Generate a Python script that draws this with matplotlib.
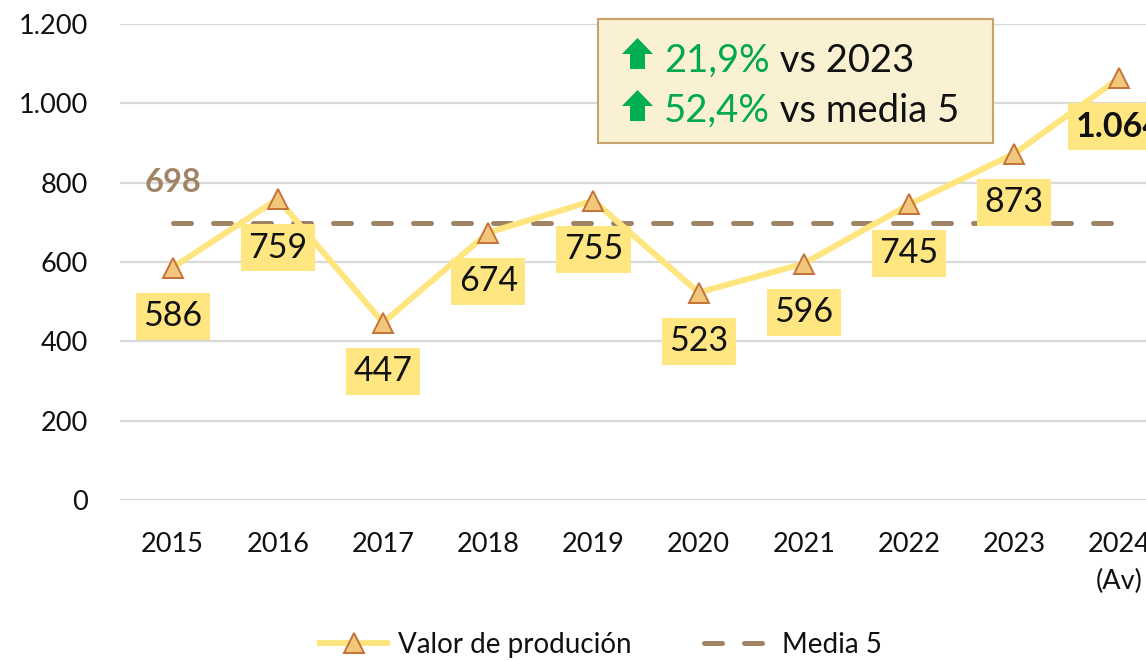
import matplotlib
matplotlib.use("Agg")
import matplotlib.pyplot as plt
from matplotlib.ticker import FuncFormatter
from matplotlib.lines import Line2D
from matplotlib.patches import Rectangle, Polygon

years = ["2015", "2016", "2017", "2018", "2019", "2020", "2021", "2022", "2023", "2024\n(Av)"]
values = [586, 759, 447, 674, 755, 523, 596, 745, 873, 1064]
media5 = 698
yticks = [0, 200, 400, 600, 800, 1000, 1200]
box_line1 = ("21,9%", "vs 2023")
box_line2 = ("52,4%", "vs media 5")
legend_labels = ["Valor de produción", "Media 5"]

plt.rcParams["font.family"] = ["Lato", "DejaVu Sans"]

W, H = 1146, 661
fig = plt.figure(figsize=(W / 100, H / 100), dpi=100)

def fx(px):
    return px / W

def fy(py):
    return (H - py) / H

ax = fig.add_axes([fx(120), fy(500), fx(1172) - fx(120), fy(24) - fy(500)])

x = list(range(len(values)))
line_col = "#FFE57F"
ax.plot(x, values, color=line_col, lw=4.3, zorder=3, solid_capstyle="round",
        marker="^", markersize=15, markerfacecolor="#F2C77C",
        markeredgecolor="#C4733A", markeredgewidth=1.4)
ax.plot([0, len(values) - 1], [media5, media5], color="#A08466", lw=3.6,
        dashes=(3.6, 4.4), dash_capstyle="round", zorder=2)

for i, v in enumerate(values):
    last = i == len(values) - 1
    lab = f"{v:,}".replace(",", ".")
    ax.annotate(lab, (i, v), xytext=(0, -35), textcoords="offset points",
                ha="center", va="center", fontsize=24.5,
                fontweight="bold" if last else "normal", color="#111111",
                bbox=dict(boxstyle="square,pad=0.22", fc="#FFE680", ec="none"),
                zorder=5, annotation_clip=False)

ax.annotate(f"{media5}", (0, media5), xytext=(0, 29), textcoords="offset points",
            ha="center", va="center", fontsize=23.5, fontweight="bold",
            color="#A08466", zorder=5)

ax.set_xlim(-0.5, len(values) - 0.5)
ax.set_ylim(0, 1200)
ax.set_yticks(yticks)
ax.yaxis.set_major_formatter(FuncFormatter(lambda v, p: f"{int(v):,}".replace(",", ".")))
ax.set_xticks(x)
ax.set_xticklabels(years, linespacing=1.62)
ax.tick_params(axis="both", length=0, labelsize=19.5, colors="#111111")
ax.tick_params(axis="y", pad=23)
ax.tick_params(axis="x", pad=23)
ax.grid(axis="y", color="#D9D9D9", lw=1.6)
ax.set_axisbelow(True)
for s in ax.spines.values():
    s.set_visible(False)

# summary box
rect = Rectangle((fx(598), fy(143)), fx(993) - fx(598), fy(19) - fy(143),
                 transform=fig.transFigure, fc="#FAF0D2", ec="#C9A26E", lw=1.5, zorder=10)
fig.patches.append(rect)

def up_arrow(left, top, w=31, h=31, head=16, stem=15):
    cx = left + w / 2
    pts = [(cx, top), (left + w, top + head), (cx + stem / 2, top + head),
           (cx + stem / 2, top + h), (cx - stem / 2, top + h),
           (cx - stem / 2, top + head), (left, top + head)]
    return Polygon([(fx(px), fy(py)) for px, py in pts], closed=True,
                   transform=fig.transFigure, fc="#00B050", ec="none", zorder=11)

green = "#00A84F"
for (pct, rest), base, atop in ((box_line1, 72, 38), (box_line2, 122, 90)):
    fig.patches.append(up_arrow(622, atop))
    t1 = fig.text(fx(664), fy(base), pct, fontsize=27.5, color=green,
                  va="baseline", ha="left", zorder=11)
    fig.canvas.draw()
    ann = fig.text(0, 0, " " + rest, fontsize=27.5, color="#111111", zorder=11,
                   va="baseline", ha="left")
    bb = t1.get_window_extent()
    ann.set_position((bb.x1 / W, fy(base)))

handles = [
    Line2D([], [], color=line_col, lw=4.3, marker="^", markersize=15,
           markerfacecolor="#F2C77C", markeredgecolor="#C4733A", markeredgewidth=1.4),
    Line2D([], [], color="#A08466", lw=3.6, dashes=(3.6, 4.4), dash_capstyle="round"),
]
fig.legend(handles, legend_labels, loc="center", bbox_to_anchor=(fx(601), fy(645)),
           ncol=2, frameon=False, fontsize=20, handlelength=2.4, columnspacing=2.6,
           handletextpad=0.4, labelcolor="#111111")

fig.savefig("out.png", dpi=100)
